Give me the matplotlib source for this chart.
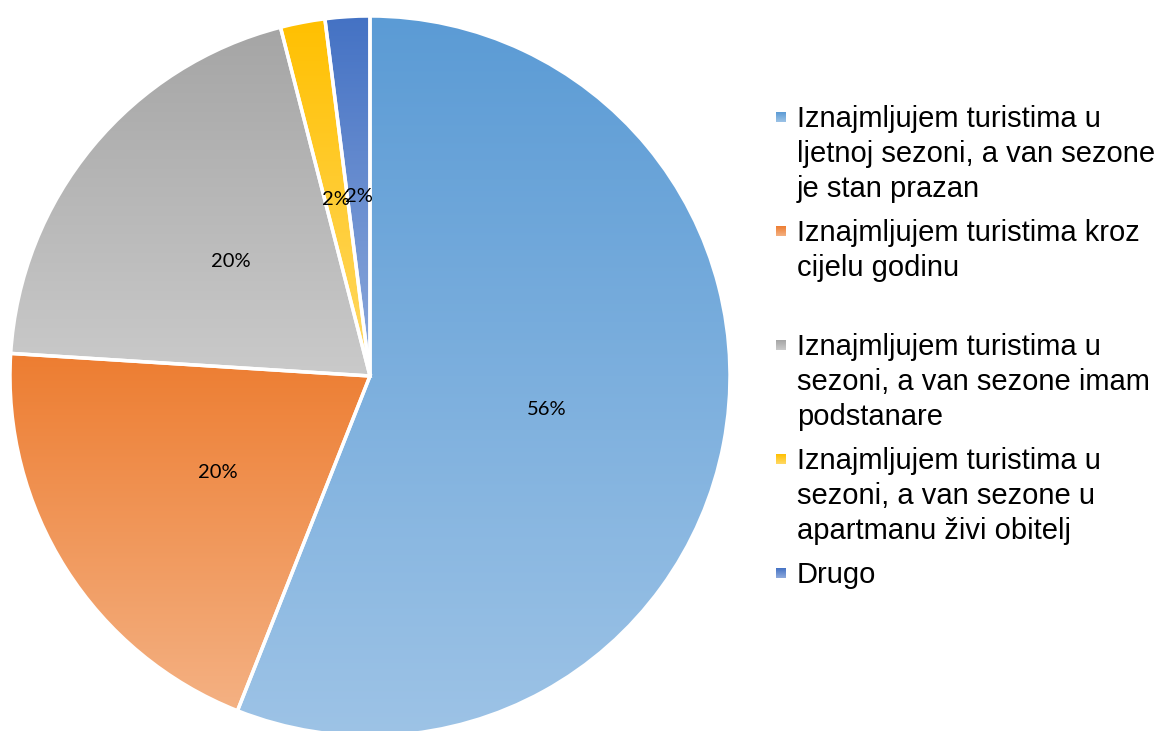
import numpy as np
import matplotlib
matplotlib.use("Agg")
import matplotlib.pyplot as plt
from matplotlib.colors import to_rgb

# ---- data ----
categories = [
    "Iznajmljujem turistima u\nljetnoj sezoni, a van sezone\nje stan prazan",
    "Iznajmljujem turistima kroz\ncijelu godinu",
    "Iznajmljujem turistima u\nsezoni, a van sezone imam\npodstanare",
    "Iznajmljujem turistima u\nsezoni, a van sezone u\napartmanu živi obitelj",
    "Drugo",
]
values = [56, 20, 20, 2, 2]
top_colors = ["#5B9BD5", "#ED7D31", "#A5A5A5", "#FFC000", "#4472C4"]
bottom_colors = ["#9DC3E6", "#F4B183", "#CACACA", "#FFD966", "#8FAADC"]

W, H = 1159, 731
fig = plt.figure(figsize=(W / 100, H / 100), dpi=100)
fig.patch.set_facecolor("white")


def gradient(c_top, c_bot, n=256):
    a = np.array(to_rgb(c_top))
    b = np.array(to_rgb(c_bot))
    t = np.linspace(0, 1, n)[:, None]
    return (a * (1 - t) + b * t)[:, None, :]


# ---- pie ----
ax = fig.add_axes([10 / W, -5 / H, 720 / W, 720 / H])
wedges, texts, autotexts = ax.pie(
    values,
    startangle=90,
    counterclock=False,
    radius=1,
    autopct="%.0f%%",
    pctdistance=0.5,
    wedgeprops=dict(edgecolor="white", linewidth=2.5, facecolor="none"),
    textprops=dict(fontsize=14.5, family="Lato", color="black"),
)
for w, ct, cb in zip(wedges, top_colors, bottom_colors):
    bb = w.get_path().get_extents()
    im = ax.imshow(gradient(ct, cb), extent=(bb.x0, bb.x1, bb.y0, bb.y1),
                   origin="upper", aspect="auto", interpolation="bilinear",
                   zorder=0)
    im.set_clip_path(w)
    w.set_zorder(1)
for t in autotexts:
    t.set_zorder(3)
ax.set_xlim(-1, 1)
ax.set_ylim(-1, 1)
ax.set_aspect("auto")
ax.axis("off")

# ---- legend (manual, pixel coordinates) ----
lax = fig.add_axes([0, 0, 1, 1])
lax.set_facecolor("none")
slot = 114
line_h = 35
base0 = 127
for i, (lab, ct, cb) in enumerate(zip(categories, top_colors, bottom_colors)):
    b = base0 + slot * i
    lax.imshow(gradient(ct, cb), extent=(776, 786, b - 5, b - 15),
               origin="upper", aspect="auto", interpolation="bilinear")
    for j, line in enumerate(lab.split("\n")):
        lax.text(797, b + line_h * j, line, fontsize=21,
                 family="Liberation Sans", va="baseline", ha="left",
                 color="black")
lax.set_xlim(0, W)
lax.set_ylim(H, 0)
lax.axis("off")

fig.savefig("out.png", dpi=100, facecolor="white")
